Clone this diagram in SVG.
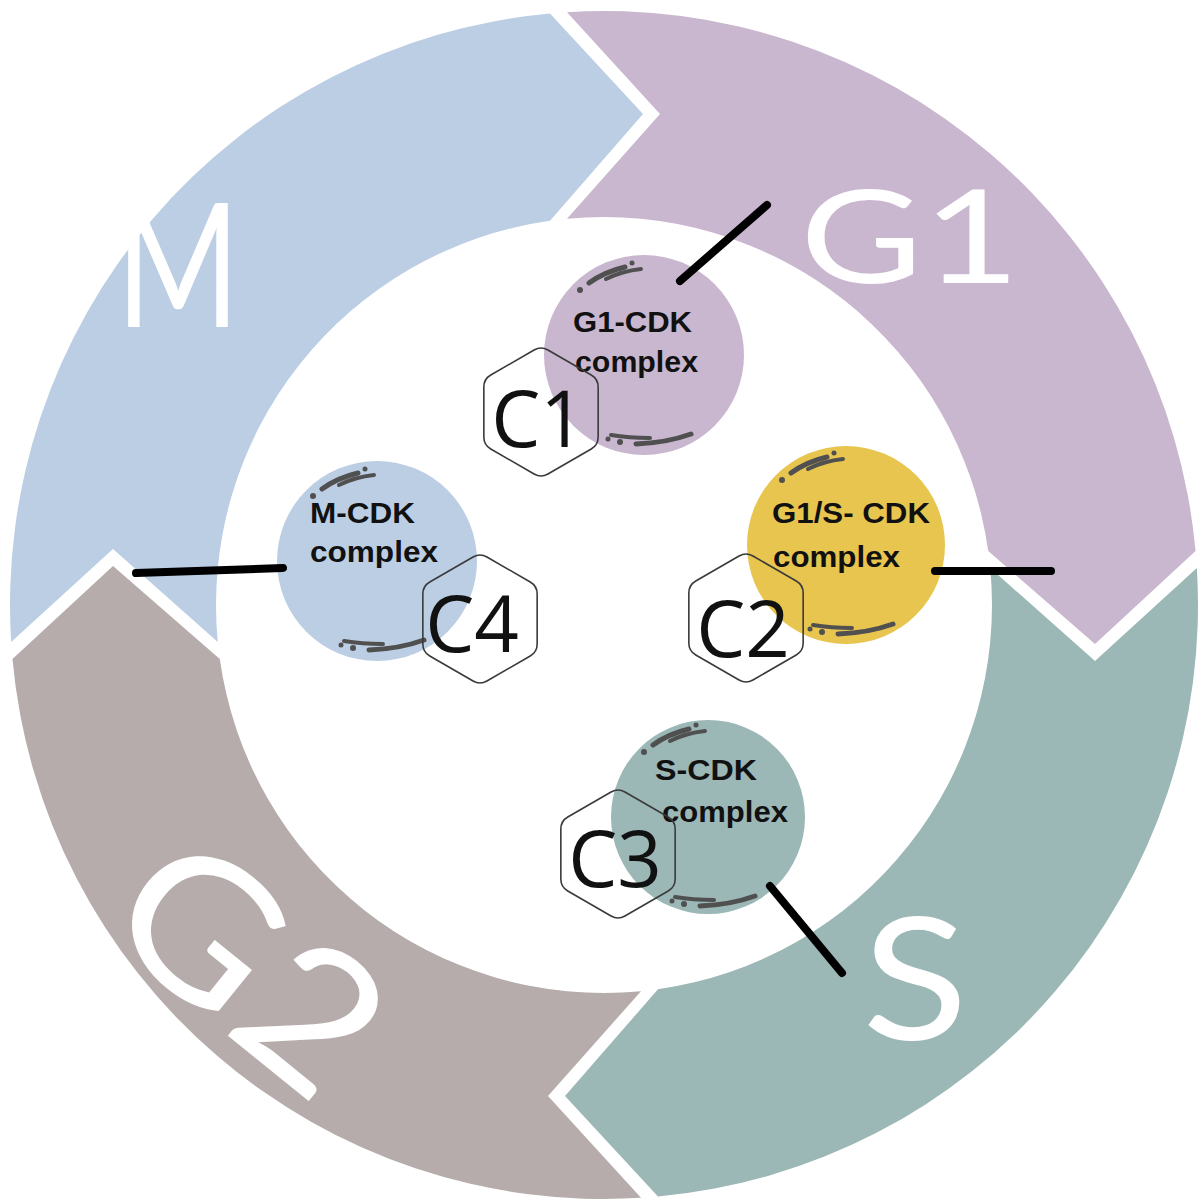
<svg xmlns="http://www.w3.org/2000/svg" width="1200" height="1202" viewBox="0 0 1200 1202">
<style>
.big{font-family:Lato,"Open Sans","Liberation Sans",sans-serif;font-weight:400;fill:#ffffff}
.lbl{font-family:"Liberation Sans",Arial,sans-serif;font-weight:700;font-size:29px;fill:#111111}
.cn{font-family:"Open Sans","Noto Sans",sans-serif;font-weight:400;font-size:78px;fill:#111111;text-anchor:middle}
.hex{fill:none;stroke:#3a3a3a;stroke-width:1.6}
.hl{fill:none;stroke:#505050;stroke-linecap:round}
.conn{stroke:#000000;stroke-width:8;stroke-linecap:round}
</style>
<defs>
<path id="seg" d="M567,12.15 A594,594 0 0 1 1195.54,551 L1095,644 L988.22,551 A388,388 0 0 0 567,218.77 L660,114 Z"/>
<path id="hexp" d="M6.93,-62 L50.23,-37 Q57.16,-33 57.16,-25 L57.16,25 Q57.16,33 50.23,37 L6.93,62 Q0,66 -6.93,62 L-50.23,37 Q-57.16,33 -57.16,25 L-57.16,-25 Q-57.16,-33 -50.23,-37 L-6.93,-62 Q0,-66 6.93,-62 Z"/>
<g id="hl">
<path class="hl" stroke-width="5" d="M-55,-72 Q-40,-83 -19,-88"/>
<path class="hl" stroke-width="4" d="M-38,-76 Q-22,-84 -3,-86"/>
<circle cx="-64" cy="-65" r="3" fill="#505050"/>
<circle cx="-12" cy="-92" r="2.5" fill="#505050"/>
<path class="hl" stroke-width="4" d="M-33,80 Q-15,83 6,83"/>
<path class="hl" stroke-width="5" d="M-8,89 Q22,88 47,79"/>
<circle cx="-36" cy="84" r="2.5" fill="#505050"/>
<circle cx="-24" cy="87" r="3" fill="#505050"/>
</g>
</defs>
<rect width="1200" height="1202" fill="#ffffff"/>
<g id="ring">
<g id="phase-G1"><use href="#seg" fill="#C9B6CF"/>
<text class="big" x="800" y="283" font-size="130" textLength="220" lengthAdjust="spacingAndGlyphs">G1</text></g>
<g id="phase-S"><use href="#seg" fill="#9BB7B6" transform="rotate(90 604 605)"/>
<text class="big" x="862" y="1040" font-size="170" textLength="106" lengthAdjust="spacingAndGlyphs">S</text></g>
<g id="phase-G2"><use href="#seg" fill="#B5ACAB" transform="rotate(180 604 605)"/>
<text class="big" x="0" y="68" font-size="192" text-anchor="middle" textLength="285" lengthAdjust="spacingAndGlyphs" transform="translate(250,966) rotate(39)">G2</text></g>
<g id="phase-M"><use href="#seg" fill="#BCCEE4" transform="rotate(270 604 605)"/>
<text class="big" x="116" y="327" font-size="173" textLength="124" lengthAdjust="spacingAndGlyphs">M</text></g>
</g>
<g id="g1-cdk">
<circle cx="644" cy="355" r="100" fill="#C9B6CF"/>
<use href="#hl" x="644" y="355"/>
<text class="lbl" x="573" y="332" textLength="119" lengthAdjust="spacingAndGlyphs">G1-CDK</text>
<text class="lbl" x="575" y="372" textLength="123" lengthAdjust="spacingAndGlyphs">complex</text>
</g>
<g id="g1s-cdk">
<circle cx="846" cy="545" r="99" fill="#E8C54F"/>
<use href="#hl" x="846" y="545"/>
<text class="lbl" x="772" y="523" textLength="158" lengthAdjust="spacingAndGlyphs">G1/S- CDK</text>
<text class="lbl" x="773" y="567" textLength="127" lengthAdjust="spacingAndGlyphs">complex</text>
</g>
<g id="s-cdk">
<circle cx="708" cy="817" r="97" fill="#9BB7B6"/>
<use href="#hl" x="708" y="817"/>
<text class="lbl" x="655" y="780" textLength="102" lengthAdjust="spacingAndGlyphs">S-CDK</text>
<text class="lbl" x="662" y="822" textLength="126" lengthAdjust="spacingAndGlyphs">complex</text>
</g>
<g id="m-cdk">
<circle cx="377" cy="561" r="100" fill="#BCCEE4"/>
<use href="#hl" x="377" y="561"/>
<text class="lbl" x="310" y="523" textLength="105" lengthAdjust="spacingAndGlyphs">M-CDK</text>
<text class="lbl" x="310" y="562" textLength="128" lengthAdjust="spacingAndGlyphs">complex</text>
</g>
<g id="hex-c1"><use href="#hexp" class="hex" x="541" y="412"/><text class="cn" x="538" y="447">C1</text></g>
<g id="hex-c2"><use href="#hexp" class="hex" x="746" y="618"/><text class="cn" x="743" y="657">C2</text></g>
<g id="hex-c3"><use href="#hexp" class="hex" x="618" y="854"/><text class="cn" x="615" y="887">C3</text></g>
<g id="hex-c4"><use href="#hexp" class="hex" x="480" y="619"/><text class="cn" x="472" y="652">C4</text></g>
<g id="connectors">
<line class="conn" x1="680" y1="281" x2="767" y2="205"/>
<line class="conn" x1="935" y1="571" x2="1051" y2="571"/>
<line class="conn" x1="770" y1="886" x2="842" y2="973"/>
<line class="conn" x1="136" y1="573" x2="283" y2="568"/>
</g>
</svg>
